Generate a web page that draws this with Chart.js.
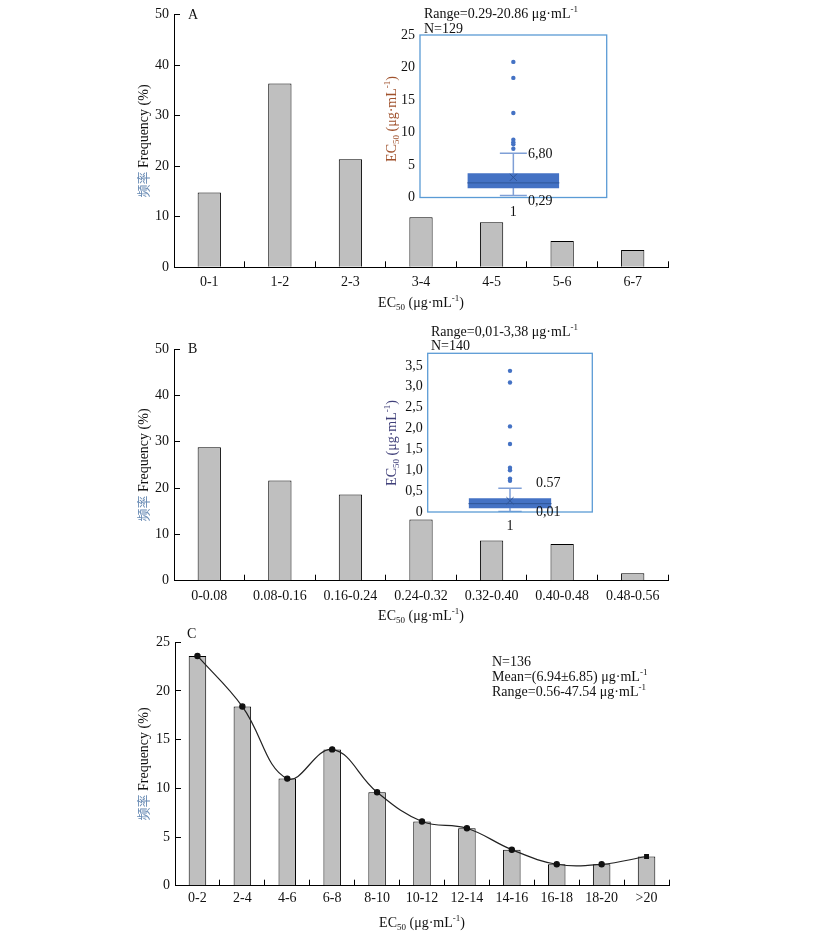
<!DOCTYPE html>
<html>
<head>
<meta charset="utf-8">
<script src="https://cdn.jsdelivr.net/npm/chart.js@4.4.0/dist/chart.umd.min.js"></script>
<style>
  body { margin: 0; background: #fff; }
  #page { position: relative; width: 816px; height: 932px; overflow: hidden; }
  canvas { position: absolute; }
  .t { position: absolute; font-family: "Liberation Serif", "Times New Roman", serif; font-size: 14px;
       line-height: 14px; white-space: nowrap; color: #111; }
  .r { transform: translate(-50%, -50%) rotate(-90deg); }
  .c { transform: translate(-50%, -50%); }
  .sb { font-size: 9px; vertical-align: -3px; line-height: 0; }
  .sp { font-size: 9px; vertical-align: 6px; line-height: 0; }
  .cn { color: #6a8cb5; font-family: "Noto Sans CJK SC", sans-serif; font-size: 13px; }
</style>
</head>
<body>
<div id="page">
  <canvas id="chartA" width="816" height="320" style="left:0;top:0"></canvas>
  <canvas id="chartB" width="816" height="310" style="left:0;top:320px"></canvas>
  <canvas id="chartC" width="816" height="302" style="left:0;top:630px"></canvas>
  <canvas id="boxA" width="250" height="200" style="left:370px;top:20px"></canvas>
  <canvas id="boxB" width="250" height="195" style="left:370px;top:340px"></canvas>

  <!-- panel A texts -->
  <div class="t" style="left:188px;top:8px">A</div>
  <div class="t r" style="left:143px;top:141px"><span class="cn">频率</span> Frequency (%)</div>
  <div class="t c" style="left:421px;top:303px">EC<span class="sb">50</span> (μg·mL<span class="sp">-1</span>)</div>
  <div class="t" style="left:424px;top:7px">Range=0.29-20.86 μg·mL<span class="sp">-1</span></div>
  <div class="t" style="left:424px;top:22px">N=129</div>
  <div class="t r" style="left:392px;top:119px;color:#a0522d">EC<span class="sb">50</span> (μg·mL<span class="sp">-1</span>)</div>
  <div class="t" style="left:528px;top:147px">6,80</div>
  <div class="t" style="left:528px;top:194px">0,29</div>

  <!-- panel B texts -->
  <div class="t" style="left:188px;top:342px">B</div>
  <div class="t r" style="left:143px;top:465px"><span class="cn">频率</span> Frequency (%)</div>
  <div class="t c" style="left:421px;top:616px">EC<span class="sb">50</span> (μg·mL<span class="sp">-1</span>)</div>
  <div class="t" style="left:431px;top:325px">Range=0,01-3,38 μg·mL<span class="sp">-1</span></div>
  <div class="t" style="left:431px;top:339px">N=140</div>
  <div class="t r" style="left:392px;top:443px;color:#40407a">EC<span class="sb">50</span> (μg·mL<span class="sp">-1</span>)</div>
  <div class="t" style="left:536px;top:476px">0.57</div>
  <div class="t" style="left:536px;top:505px">0,01</div>

  <!-- panel C texts -->
  <div class="t" style="left:187px;top:627px">C</div>
  <div class="t r" style="left:143px;top:764px"><span class="cn">频率</span> Frequency (%)</div>
  <div class="t c" style="left:422px;top:923px">EC<span class="sb">50</span> (μg·mL<span class="sp">-1</span>)</div>
  <div class="t" style="left:492px;top:655px">N=136</div>
  <div class="t" style="left:492px;top:670px">Mean=(6.94±6.85) μg·mL<span class="sp">-1</span></div>
  <div class="t" style="left:492px;top:685px">Range=0.56-47.54 μg·mL<span class="sp">-1</span></div>
</div>

<script>
// frequency histograms (%)
const catsA = ["0-1", "1-2", "2-3", "3-4", "4-5", "5-6", "6-7"];
const freqA = [14.8, 36.4, 21.4, 9.9, 8.9, 5.2, 3.4];

const catsB = ["0-0.08", "0.08-0.16", "0.16-0.24", "0.24-0.32", "0.32-0.40", "0.40-0.48", "0.48-0.56"];
const freqB = [28.8, 21.6, 18.6, 13.2, 8.7, 7.9, 1.6];

const catsC = ["0-2", "2-4", "4-6", "6-8", "8-10", "10-12", "12-14", "14-16", "16-18", "18-20", ">20"];
const freqC = [23.6, 18.4, 11.0, 14.0, 9.6, 6.6, 5.9, 3.7, 2.2, 2.2, 3.0];

// box plot insets: [min, q1, median, q3, max]
const boxStatsA = [0.29, 1.42, 2.25, 3.73, 6.80];
const meanA = 3.1;
const outliersA = [20.86, 18.4, 13.0, 8.9, 8.5, 8.2, 7.5];

const boxStatsB = [0.01, 0.09, 0.2, 0.33, 0.57];
const meanB = 0.27;
const outliersB = [3.38, 3.1, 2.05, 1.63, 1.06, 1.0, 0.8, 0.75];

const serif = { family: "'Liberation Serif', 'Times New Roman', serif", size: 14 };

/**
 * Draws a frame round the plot area (used by the insets)
 */
const framePlugin = {
  id: "frame",
  afterDraw(chart, args, opts) {
    const { ctx, chartArea: a } = chart;
    ctx.save();
    ctx.strokeStyle = opts.color || "#5b9bd5";
    ctx.lineWidth = 1.3;
    ctx.strokeRect(a.left, a.top, a.right - a.left, a.bottom - a.top);
    ctx.restore();
  },
};

// force a scale box size and drop the label overhang padding
function fixWidth(w) {
  return (s) => { s.width = w; s.paddingTop = 0; s.paddingBottom = 0; };
}
function fixHeight(h) {
  return (s) => { s.height = h; s.paddingLeft = 0; s.paddingRight = 0; };
}

/**
 * Histogram with inward ticks
 * @param {*} id canvas id
 * @param {*} cats category labels
 * @param {*} freq bar heights
 * @param {*} cfg layout numbers for this panel
 */
function histogram(id, cats, freq, cfg) {
  const datasets = [
    {
      type: "bar",
      data: freq,
      backgroundColor: "#bfbfbf",
      borderColor: "#000",
      borderWidth: 1,
      barPercentage: cfg.barPct,
      categoryPercentage: 1,
      order: 2,
    },
  ];
  if (cfg.curve) {
    datasets.push({
      type: "line",
      data: freq,
      borderColor: "#222",
      borderWidth: 1.2,
      tension: 0.4,
      pointRadius: 2.6,
      pointStyle: freq.map((v, i) => (i === freq.length - 1 ? "rect" : "circle")),
      pointBackgroundColor: "#111",
      pointBorderColor: "#111",
      order: 1,
    });
  }
  return new Chart(document.getElementById(id), {
    data: { labels: cats, datasets: datasets },
    options: {
      responsive: false,
      animation: false,
      layout: { autoPadding: false, padding: { left: 0, right: 816 - cfg.right, top: cfg.top, bottom: 0 } },
      plugins: { legend: { display: false }, tooltip: { enabled: false } },
      scales: {
        x: {
          grid: { display: true, drawOnChartArea: false, drawTicks: true, tickLength: -6, color: "#000", offset: true },
          border: { display: true, color: "#000", width: 1 },
          ticks: { font: serif, color: "#111", padding: cfg.xPad, maxRotation: 0, autoSkip: false },
          afterFit: fixHeight(cfg.xHeight),
        },
        y: {
          min: 0,
          max: cfg.yMax,
          ticks: { stepSize: cfg.step, font: serif, color: "#111", padding: 11 },
          grid: { display: true, drawOnChartArea: false, drawTicks: true, tickLength: -6, color: "#000" },
          border: { display: true, color: "#000", width: 1 },
          afterFit: fixWidth(cfg.left),
        },
      },
    },
  });
}

/**
 * Box plot inset built from bar and point datasets
 */
function boxInset(id, stats, mean, outliers, cfg) {
  const [min, q1, med, q3, max] = stats;
  const at = (v) => ({ x: "1", y: v });
  return new Chart(document.getElementById(id), {
    type: "bar",
    data: {
      labels: ["1"],
      datasets: [
        {
          type: "line",
          data: [at(min), at(max)],
          borderColor: "#7f9fd6",
          borderWidth: 1.5,
          pointRadius: 0,
          order: 4,
        },
        {
          type: "bar",
          data: [[q1, q3]],
          backgroundColor: "#4472c4",
          borderWidth: 0,
          barPercentage: cfg.boxPct,
          categoryPercentage: 1,
          grouped: false,
          order: 3,
        },
        {
          type: "line",
          data: [at(min), at(max)],
          showLine: false,
          pointStyle: "line",
          pointRadius: cfg.capR,
          pointBorderColor: "#7f9fd6",
          pointBorderWidth: 1.5,
          order: 2,
        },
        {
          type: "line",
          data: [at(med)],
          showLine: false,
          pointStyle: "line",
          pointRadius: cfg.boxHalf,
          pointBorderColor: "#2f5597",
          pointBorderWidth: 1,
          order: 2,
        },
        {
          type: "line",
          data: [at(mean)],
          showLine: false,
          pointStyle: "crossRot",
          pointRadius: 5,
          pointBorderColor: "#2f5597",
          pointBorderWidth: 1,
          order: 1,
        },
        {
          type: "line",
          data: outliers.map(at),
          showLine: false,
          pointStyle: "circle",
          pointRadius: 2.2,
          pointBackgroundColor: "#4472c4",
          pointBorderWidth: 0,
          order: 1,
        },
      ],
    },
    options: {
      responsive: false,
      animation: false,
      layout: { autoPadding: false, padding: { left: 0, right: cfg.padRight, top: cfg.top, bottom: 0 } },
      plugins: { legend: { display: false }, tooltip: { enabled: false }, frame: { color: "#5b9bd5" } },
      scales: {
        x: {
          grid: { display: false, drawTicks: false },
          border: { display: false },
          ticks: { font: serif, color: "#111", padding: 6 },
          afterFit: fixHeight(cfg.xHeight),
        },
        y: {
          min: 0,
          max: cfg.yMax,
          grid: { display: false, drawTicks: false },
          border: { display: false },
          ticks: {
            stepSize: cfg.step,
            includeBounds: false,
            autoSkip: false,
            font: serif,
            color: "#111",
            padding: 5,
            callback: cfg.fmt,
          },
          afterFit: fixWidth(cfg.left),
        },
      },
    },
    plugins: [framePlugin],
  });
}

histogram("chartA", catsA, freqA, { left: 174, right: 668, top: 14.7, xHeight: 52.7, xPad: 13, yMax: 50, step: 10, barPct: 0.33 });
histogram("chartB", catsB, freqB, { left: 174, right: 668, top: 29, xHeight: 49.3, xPad: 13, yMax: 50, step: 10, barPct: 0.33 });
histogram("chartC", catsC, freqC, { left: 175, right: 669, top: 12.3, xHeight: 46.3, xPad: 10, yMax: 25, step: 5, barPct: 0.39, curve: true });

boxInset("boxA", boxStatsA, meanA, outliersA, {
  left: 50, padRight: 13.3, top: 15, xHeight: 22.5, yMax: 25, step: 5,
  boxPct: 0.49, boxHalf: 46, capR: 13.5,
  fmt: (v) => String(v),
});
boxInset("boxB", boxStatsB, meanB, outliersB, {
  left: 57.7, padRight: 27.7, top: 13.3, xHeight: 23, yMax: 3.8, step: 0.5,
  boxPct: 0.5, boxHalf: 41.5, capR: 11.7,
  fmt: (v) => (v === 0 ? "0" : v.toFixed(1).replace(".", ",")),
});
</script>
</body>
</html>
